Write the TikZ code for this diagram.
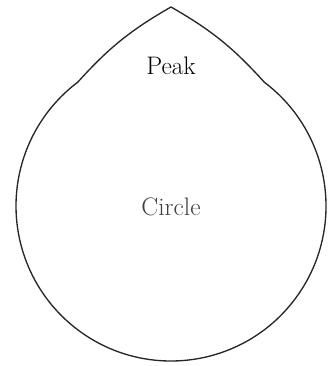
\documentclass[tikz,border=0pt]{standalone}
\usetikzlibrary{calc}
\begin{document}
\begin{tikzpicture}[x=0.75pt,y=0.75pt,
  outline/.style={draw=black!85,line width=1pt,line join=round},
  lbl/.style={font=\fontsize{19}{22}\selectfont,inner sep=0pt}]
\useasboundingbox (0,0) rectangle (330,366);
\coordinate (C) at (171,160);
\coordinate (P) at (171,359);
\coordinate (L) at ($(C)+(127:155)$);
\coordinate (R) at ($(C)+(53:155)$);
\draw[outline] (L) to[bend left=9] (P) to[bend left=9] (R)
  arc[start angle=53,end angle=-233,radius=155];
\node[lbl,text=black] (peak) at (171,300) {Peak};
\node[lbl,text=black!75] (circle) at (171,159) {Circle};
\end{tikzpicture}
\end{document}
